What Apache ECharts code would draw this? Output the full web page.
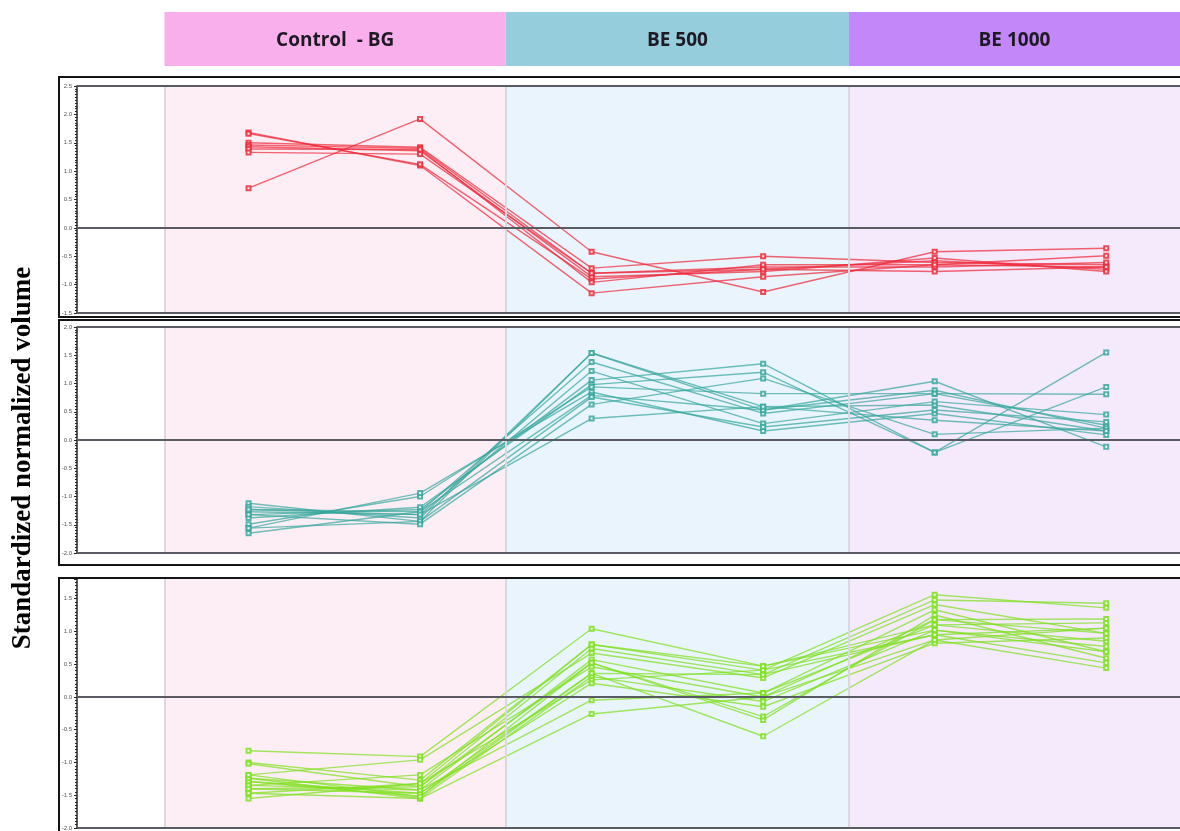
<!DOCTYPE html>
<html>
<head>
<meta charset="utf-8">
<script src="https://cdn.jsdelivr.net/npm/echarts@6/dist/echarts.min.js"></script>
<style>
  html, body { margin: 0; padding: 0; background: #ffffff; }
  #chart { width: 1180px; height: 831px; }
</style>
</head>
<body>
<div id="chart"></div>
<script>
// Treatment groups and their spans on the sample axis
const groupNames = ['Control  - BG', 'BE 500', 'BE 1000'];
const groupSpans = [[0.51, 2.5], [2.5, 4.5], [4.5, 6.43]];
const samplePositions = [1, 2, 3, 4, 5, 6];

// Cluster 1: high in control, low under both BE doses
const redProfiles = [
  [0.70, 1.92, -0.42, -1.13, -0.42, -0.36],
  [1.68, 1.10, -1.15, -0.86, -0.65, -0.69],
  [1.66, 1.12, -0.90, -0.73, -0.58, -0.73],
  [1.50, 1.42, -0.71, -0.50, -0.61, -0.65],
  [1.46, 1.40, -0.80, -0.69, -0.69, -0.61],
  [1.43, 1.36, -0.86, -0.77, -0.53, -0.77],
  [1.39, 1.38, -0.96, -0.65, -0.65, -0.49],
  [1.33, 1.30, -0.80, -0.73, -0.77, -0.69]
];

// Cluster 2: low in control, raised under BE 500, moderate under BE 1000
const tealProfiles = [
  [-1.12, -1.44, 1.54, 0.53, 0.88, 0.21],
  [-1.18, -1.38, 1.54, 0.59, 0.62, 0.16],
  [-1.23, -1.27, 1.38, 0.47, 0.82, 0.26],
  [-1.27, -1.32, 1.22, 0.29, 0.68, 0.45],
  [-1.32, -1.23, 1.06, 1.35, -0.22, 1.55],
  [-1.38, -1.19, 0.98, 1.20, -0.22, 0.94],
  [-1.49, -1.00, 0.94, 0.82, 0.82, 0.81],
  [-1.56, -0.94, 0.85, 0.16, 0.47, 0.09],
  [-1.65, -1.27, 0.79, 0.53, 1.04, -0.12],
  [-1.56, -1.44, 0.76, 0.23, 0.53, 0.32],
  [-1.32, -1.49, 0.63, 1.09, 0.10, 0.21],
  [-1.23, -1.32, 0.38, 0.59, 0.35, 0.16]
];

// Cluster 3: low in control, rising with dose
const greenProfiles = [
  [-0.82, -0.91, 1.04, 0.47, 1.10, 0.85],
  [-1.00, -1.27, 0.80, 0.41, 1.56, 1.36],
  [-1.02, -1.37, 0.74, 0.34, 1.48, 1.43],
  [-1.19, -0.96, 0.67, 0.29, 1.41, 0.97],
  [-1.24, -1.42, 0.57, 0.06, 1.33, 0.69],
  [-1.29, -1.52, 0.52, -0.35, 1.25, 0.59],
  [-1.35, -1.19, 0.46, 0.00, 1.18, 1.19],
  [-1.40, -1.47, 0.36, -0.60, 0.87, 1.05],
  [-1.47, -1.55, 0.31, -0.07, 1.02, 0.77],
  [-1.55, -1.32, 0.26, 0.41, 0.95, 0.52],
  [-1.29, -1.47, 0.21, -0.15, 0.82, 0.90],
  [-1.35, -1.42, -0.05, 0.06, 1.10, 1.13],
  [-1.24, -1.55, -0.26, 0.00, 0.87, 0.44],
  [-1.40, -1.37, 0.52, -0.30, 1.18, 0.97],
  [-1.47, -1.32, 0.80, 0.47, 1.02, 0.69],
  [-1.19, -1.52, 0.36, 0.34, 0.95, 1.05]
];

// y ranges of the three panels: [min, max, reference lines]
const panelRanges = [
  { min: -1.5, max: 2.5, lines: [2.5, 0, -1.5] },
  { min: -2.0, max: 2.0, lines: [2.0, 0, -2.0] },
  { min: -2.0, max: 1.8, lines: [0, -2.0] }
];

const headerColors = ['#f9afec', '#96cddd', '#c487fa'];
const bandColors = ['#fdeef5', '#eaf4fd', '#f4eafc'];
const profileColors = ['#ee2a3a', '#38a79e', '#7ee01e'];
const profileSets = [redProfiles, tealProfiles, greenProfiles];

// panel placement in pixels
const panelGrids = [
  { top: 86, height: 227 },
  { top: 327, height: 226 },
  { top: 579, height: 249 }
];
const panelBoxes = [
  { y: 77, h: 240 },
  { y: 320, h: 245 },
  { y: 578, h: 260 }
];
const plotLeft = 77;
const xMax = 6.43;

const grids = [];
const xAxes = [];
const yAxes = [];
const series = [];

// header strip with group names
grids.push({ left: plotLeft, right: 0, top: 12, height: 54 });
xAxes.push({ type: 'value', gridIndex: 0, min: 0, max: xMax, show: false });
yAxes.push({ type: 'value', gridIndex: 0, min: 0, max: 1, show: false });
series.push({
  type: 'line', xAxisIndex: 0, yAxisIndex: 0, data: [], silent: true,
  markArea: {
    silent: true,
    label: {
      show: true, position: 'inside', fontFamily: 'Open Sans', fontWeight: 'bold',
      fontSize: 19, color: '#1e1a24', offset: [0, 2]
    },
    data: groupNames.map((name, i) => [
      { name: name, xAxis: groupSpans[i][0], yAxis: 0, itemStyle: { color: headerColors[i], opacity: 1 } },
      { xAxis: groupSpans[i][1], yAxis: 1 }
    ])
  }
});

panelRanges.forEach((range, p) => {
  const gi = p + 1;
  grids.push({ left: plotLeft, right: 0, top: panelGrids[p].top, height: panelGrids[p].height });
  xAxes.push({ type: 'value', gridIndex: gi, min: 0, max: xMax, show: false });
  yAxes.push({
    type: 'value', gridIndex: gi, min: range.min, max: range.max, interval: 0.5,
    axisLine: { show: true, onZero: false, lineStyle: { color: '#222', width: 1.5 } },
    axisTick: { show: true, length: 3, inside: false, lineStyle: { color: '#222' } },
    minorTick: { show: true, splitNumber: 10, length: 2, lineStyle: { color: '#222', width: 1.2 } },
    splitLine: { show: false },
    axisLabel: {
      fontSize: 6, color: '#555', margin: 5, showMaxLabel: p !== 2,
      formatter: v => v.toFixed(1)
    }
  });

  // background bands, separators and reference lines
  series.push({
    type: 'line', xAxisIndex: gi, yAxisIndex: gi, data: [], silent: true, z: 1,
    markArea: {
      silent: true,
      data: groupSpans.map((s, i) => [
        { xAxis: s[0], yAxis: range.min, itemStyle: { color: bandColors[i], opacity: 1 } },
        { xAxis: s[1], yAxis: range.max }
      ])
    },
    markLine: {
      silent: true, symbol: 'none', label: { show: false },
      data: [
        ...groupSpans.map(s => ({ xAxis: s[0], lineStyle: { color: '#d6d9dd', width: 2, type: 'solid' } })),
        ...range.lines.map(v => ({ yAxis: v, lineStyle: { color: '#5a5a62', width: 2.2, type: 'solid' } }))
      ]
    }
  });

  profileSets[p].forEach((profile, k) => {
    series.push({
      type: 'line', xAxisIndex: gi, yAxisIndex: gi, z: 3,
      name: 'cluster' + (p + 1) + '-' + (k + 1),
      data: profile.map((v, j) => [samplePositions[j], v]),
      symbol: 'emptyRect', symbolSize: 4, showSymbol: true,
      lineStyle: { color: profileColors[p], width: 1.4, opacity: 0.72 },
      itemStyle: { color: profileColors[p], borderColor: profileColors[p], borderWidth: 1, opacity: 0.85 },
      emphasis: { disabled: true },
      animation: false
    });
  });
});

const chart = echarts.init(document.getElementById('chart'), null, { renderer: 'canvas' });
chart.setOption({
  animation: false,
  backgroundColor: '#ffffff',
  grid: grids,
  xAxis: xAxes,
  yAxis: yAxes,
  series: series,
  graphic: [
    ...panelBoxes.map(b => ({
      type: 'rect', silent: true, z: 100,
      shape: { x: 59, y: b.y, width: 1140, height: b.h },
      style: { fill: 'none', stroke: '#141414', lineWidth: 2 }
    })),
    {
      type: 'text', silent: true, z: 100,
      x: 23, y: 458, rotation: Math.PI / 2,
      style: {
        text: 'Standardized normalized volume',
        font: 'bold 27px "Liberation Serif"',
        fill: '#000', align: 'center', verticalAlign: 'middle'
      }
    }
  ]
});
</script>
</body>
</html>
